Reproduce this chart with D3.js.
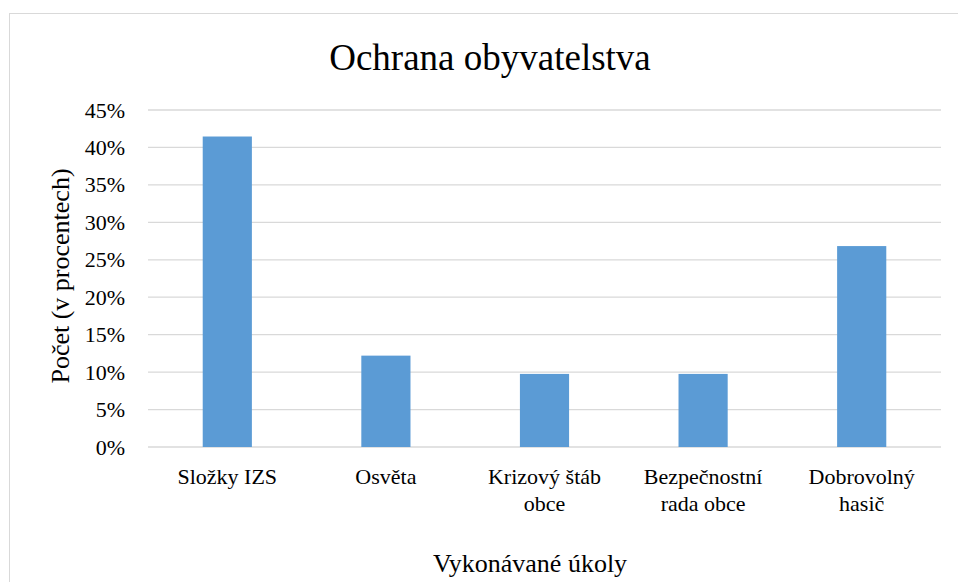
<!DOCTYPE html>
<html>
<head>
<meta charset="utf-8">
<script src="https://cdn.jsdelivr.net/npm/d3@7"></script>
<style>
  body { margin: 0; background: #fff; }
</style>
</head>
<body>
<svg id="chart" width="958" height="582"></svg>
<script>
// data
const categories = [['Složky IZS'], ['Osvěta'], ['Krizový štáb', 'obce'], ['Bezpečnostní', 'rada obce'], ['Dobrovolný', 'hasič']];
const values = [41.46, 12.2, 9.76, 9.76, 26.83];
const yTicks = [0, 5, 10, 15, 20, 25, 30, 35, 40, 45];

const FONT = '"Liberation Serif", "Times New Roman", serif';

const svg = d3.select('#chart'),
  margin = { left: 148, right: 17, top: 110, bottom: 135 },
  width = 958 - margin.left - margin.right,
  height = 582 - margin.top - margin.bottom;

// outer chart frame
svg.append('rect')
  .attr('x', 9.5).attr('y', 13.5)
  .attr('width', 960).attr('height', 600)
  .style('fill', 'none')
  .style('stroke', '#d9d9d9')
  .style('stroke-width', 1);

const g = svg.append('g').attr('transform', `translate(${margin.left},${margin.top})`);

const x = d3.scaleBand()
  .domain(categories.map(d => d.join(' ')))
  .range([0, width])
  .paddingInner(0.69)
  .paddingOuter(0.345);

const y = d3.scaleLinear().domain([0, 45]).range([height, 0]);

// gridlines
g.selectAll('.grid')
  .data(yTicks)
  .enter().append('line')
  .attr('x1', 0).attr('x2', width)
  .attr('y1', d => y(d)).attr('y2', d => y(d))
  .style('stroke', '#d9d9d9')
  .style('stroke-width', 1.3);

// y axis labels
const yAxis = d3.axisLeft(y).tickValues(yTicks).tickFormat(d => d + '%').tickSize(0).tickPadding(23);
g.append('g').call(yAxis)
  .call(s => s.select('.domain').remove())
  .selectAll('text')
  .style('font-size', '22px')
  .style('font-family', FONT)
  .style('fill', '#000');

// bars
g.selectAll('.bar')
  .data(values)
  .enter().append('rect')
  .attr('x', (d, i) => x(categories[i].join(' ')))
  .attr('width', x.bandwidth())
  .attr('y', d => y(d))
  .attr('height', d => height - y(d))
  .style('fill', '#5b9bd5');

// category labels
const catLabels = g.selectAll('.cat')
  .data(categories)
  .enter().append('text')
  .attr('text-anchor', 'middle')
  .attr('transform', d => `translate(${x(d.join(' ')) + x.bandwidth() / 2},${height + 37})`)
  .style('font-family', FONT)
  .style('font-size', '22px');

catLabels.selectAll('tspan')
  .data(d => d)
  .enter().append('tspan')
  .attr('x', 0)
  .attr('dy', (d, i) => i === 0 ? 0 : 27)
  .text(d => d);

// title
svg.append('text')
  .attr('x', 490).attr('y', 70)
  .attr('text-anchor', 'middle')
  .style('font-family', FONT)
  .style('font-size', '37px')
  .text('Ochrana obyvatelstva');

// axis titles
svg.append('text')
  .attr('x', 530).attr('y', 572)
  .attr('text-anchor', 'middle')
  .style('font-family', FONT)
  .style('font-size', '26px')
  .text('Vykonávané úkoly');

svg.append('text')
  .attr('transform', 'translate(69,276) rotate(-90)')
  .attr('text-anchor', 'middle')
  .style('font-family', FONT)
  .style('font-size', '26px')
  .text('Počet (v procentech)');
</script>
</body>
</html>
